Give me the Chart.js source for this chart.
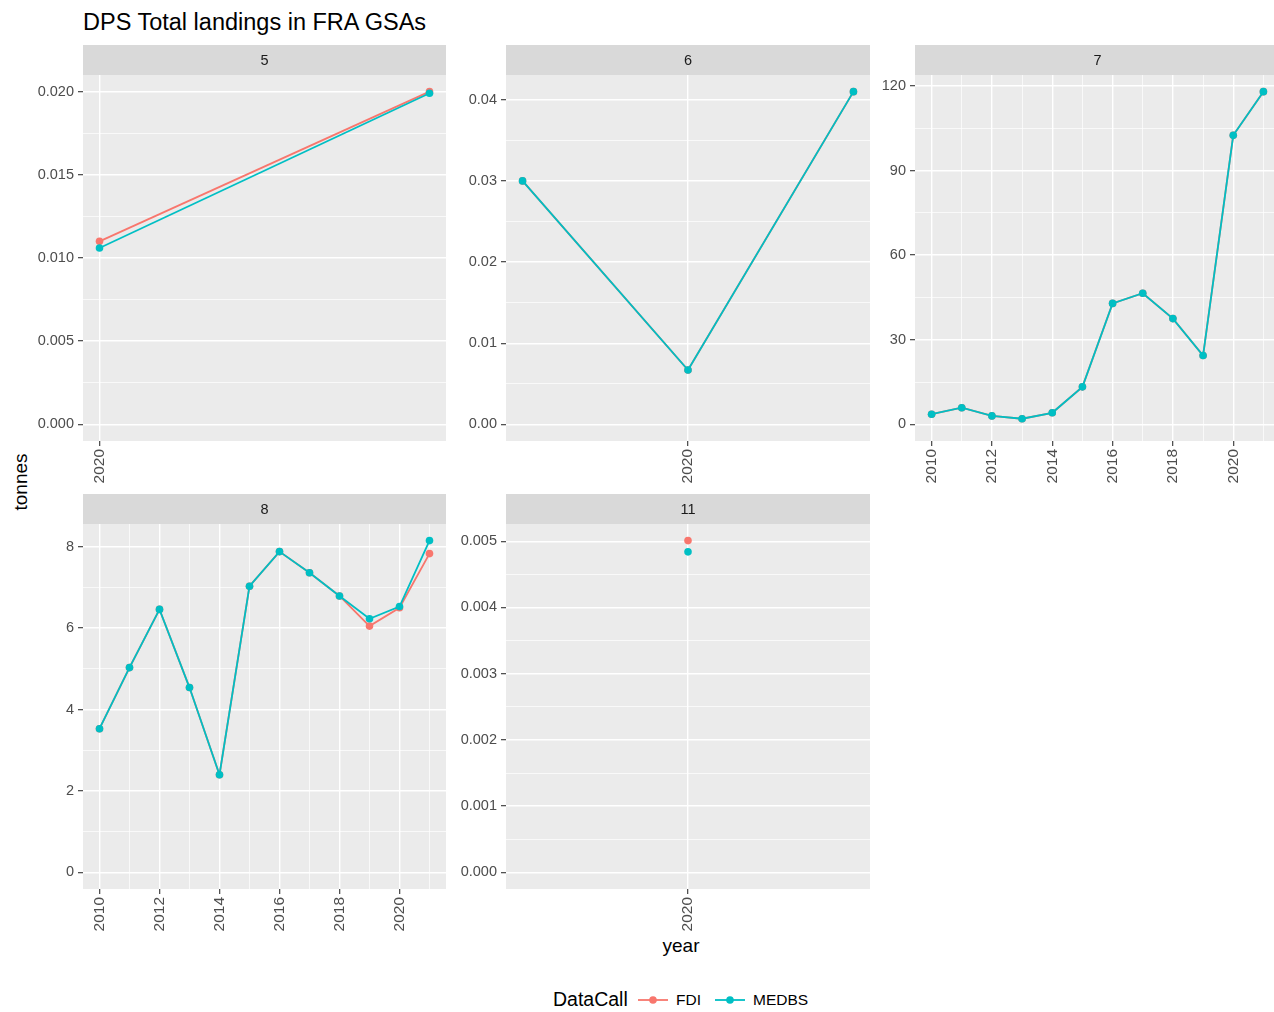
<!DOCTYPE html>
<html><head><meta charset="utf-8">
<script src="https://cdn.jsdelivr.net/npm/chart.js@4.4.0/dist/chart.umd.min.js"></script>
<style>
html,body{margin:0;padding:0;background:#fff;width:1274px;height:1012px;overflow:hidden;position:relative;font-family:"Liberation Sans",Arial,sans-serif;}
canvas{position:absolute;}
.t{position:absolute;white-space:nowrap;line-height:1;}
</style></head><body>
<div class="t" style="left:83px;top:11px;font-size:23.5px;color:#000">DPS Total landings in FRA GSAs</div>
<div class="t" style="left:20px;top:482px;font-size:19px;color:#000;transform:translate(-50%,-50%) rotate(-90deg);">tonnes</div>
<div class="t" style="left:681px;top:945px;font-size:19px;color:#000;transform:translate(-50%,-50%);">year</div>
<div class="t" style="left:553px;top:1000px;font-size:19.5px;color:#000;transform:translateY(-50%);">DataCall</div>
<svg style="position:absolute;left:638px;top:994px" width="30" height="12"><line x1="0" y1="6" x2="30" y2="6" stroke="#F8766D" stroke-width="1.8"/><circle cx="15" cy="6" r="3.8" fill="#F8766D"/></svg>
<div class="t" style="left:676px;top:1000px;font-size:15.5px;color:#000;transform:translateY(-50%);">FDI</div>
<svg style="position:absolute;left:715px;top:994px" width="30" height="12"><line x1="0" y1="6" x2="30" y2="6" stroke="#00BFC4" stroke-width="1.8"/><circle cx="15" cy="6" r="3.8" fill="#00BFC4"/></svg>
<div class="t" style="left:753px;top:1000px;font-size:15.5px;color:#000;transform:translateY(-50%);">MEDBS</div>

<canvas id="c5"></canvas><canvas id="c6"></canvas><canvas id="c7"></canvas><canvas id="c8"></canvas><canvas id="c11"></canvas>
<script>
// ---- data ----
const years5 = [2020, 2021];
const fdi5   = [0.0110, 0.0200];
const medbs5 = [0.0106, 0.0199];

const years6 = [2019, 2020, 2021];
const fdi6   = [0.0300, 0.0067, 0.0410];
const medbs6 = [0.0300, 0.0067, 0.0410];

const years7 = [2010, 2011, 2012, 2013, 2014, 2015, 2016, 2017, 2018, 2019, 2020, 2021];
const fdi7   = [3.6, 5.9, 3.0, 2.0, 4.1, 13.3, 42.9, 46.5, 37.5, 24.4, 102.5, 118.0];
const medbs7 = [3.6, 5.9, 3.0, 2.0, 4.1, 13.3, 42.9, 46.5, 37.5, 24.4, 102.5, 118.0];

const years8 = [2010, 2011, 2012, 2013, 2014, 2015, 2016, 2017, 2018, 2019, 2020, 2021];
const fdi8   = [3.53, 5.03, 6.46, 4.54, 2.40, 7.03, 7.88, 7.36, 6.79, 6.05, 6.50, 7.83];
const medbs8 = [3.53, 5.03, 6.46, 4.54, 2.40, 7.03, 7.88, 7.36, 6.79, 6.23, 6.53, 8.15];

const years11 = [2020];
const fdi11   = [0.00501];
const medbs11 = [0.00484];

// ---- tick labels ----
const xTicks5 = [2020];
const xTicks6 = [2020];
const xTicks7 = [2010, 2012, 2014, 2016, 2018, 2020];
const xTicks8 = [2010, 2012, 2014, 2016, 2018, 2020];
const xTicks11 = [2020];
const yTicks5 = ["0.000", "0.005", "0.010", "0.015", "0.020"];
const yTicks6 = ["0.00", "0.01", "0.02", "0.03", "0.04"];
const yTicks7 = ["0", "30", "60", "90", "120"];
const yTicks8 = ["0", "2", "4", "6", "8"];
const yTicks11 = ["0.000", "0.001", "0.002", "0.003", "0.004", "0.005"];

const FONT = '"Liberation Sans", Arial, sans-serif';
const YW = 70, XH = 50, TOPPAD = 34, RPAD = 6, BPAD = 5, STRIP = 30;

function withMinor(majors, lo, hi) {
  const out = majors.filter(v => v >= lo && v <= hi).map(v => ({value: v}));
  if (majors.length > 1) {
    const step = majors[1] - majors[0];
    const ext = [majors[0] - step, ...majors, majors[majors.length - 1] + step];
    for (let i = 0; i < ext.length - 1; i++) {
      const m = (ext[i] + ext[i + 1]) / 2;
      if (m >= lo && m <= hi) out.push({value: m, minor: true});
    }
  }
  out.sort((a, b) => a.value - b.value);
  return out;
}

const bgPlugin = {
  id: 'panelbg',
  beforeDraw(chart, args, opts) {
    const {ctx, chartArea: a} = chart;
    ctx.save();
    ctx.fillStyle = '#EBEBEB';
    ctx.fillRect(a.left, a.top, a.right - a.left, a.bottom - a.top);
    ctx.fillStyle = '#D9D9D9';
    ctx.fillRect(a.left, a.top - STRIP, a.right - a.left, STRIP);
    ctx.fillStyle = '#1A1A1A';
    ctx.font = '14.5px ' + FONT;
    ctx.textAlign = 'center';
    ctx.textBaseline = 'middle';
    ctx.fillText(opts.label, (a.left + a.right) / 2, a.top - STRIP / 2 + 1);
    ctx.restore();
  }
};

function gridOpts() {
  return {
    color: '#FFFFFF',
    lineWidth: c => (c.tick && c.tick.minor) ? 0.7 : 1.4,
    drawTicks: true,
    tickLength: 5,
    tickWidth: 1.1,
    tickColor: c => (c.tick && c.tick.minor) ? 'rgba(0,0,0,0)' : '#333333'
  };
}

function panel(id, box, label, years, fdi, medbs, xTicks, yTickLabels) {
  const cv = document.getElementById(id);
  const w = (box.R - box.L) + YW + RPAD;
  const h = (box.B - box.T) + TOPPAD + XH + BPAD;
  cv.width = w; cv.height = h;
  cv.style.left = (box.L - YW) + 'px';
  cv.style.top = (box.T - TOPPAD) + 'px';
  cv.style.width = w + 'px'; cv.style.height = h + 'px';

  const yVals = yTickLabels.map(Number);
  const yMax = Math.max(...fdi, ...medbs), yMin = 0;
  const yr = yMax - yMin;
  const ylo = yMin - 0.05 * yr, yhi = yMax + 0.05 * yr;
  const xa = Math.min(...years), xb = Math.max(...years);
  const xr = xb - xa;
  const xlo = xr === 0 ? xa - 0.55 : xa - 0.05 * xr;
  const xhi = xr === 0 ? xb + 0.55 : xb + 0.05 * xr;

  const mk = (arr) => years.map((y, i) => ({x: y, y: arr[i]}));
  new Chart(cv, {
    type: 'line',
    data: {
      datasets: [
        {label: 'FDI', data: mk(fdi), borderColor: '#F8766D', backgroundColor: '#F8766D',
         borderWidth: 1.8, pointRadius: 3.8, pointBorderWidth: 0, pointHoverRadius: 3.8, order: 2, tension: 0},
        {label: 'MEDBS', data: mk(medbs), borderColor: '#00BFC4', backgroundColor: '#00BFC4',
         borderWidth: 1.8, pointRadius: 3.8, pointBorderWidth: 0, pointHoverRadius: 3.8, order: 1, tension: 0}
      ]
    },
    options: {
      responsive: false,
      animation: false,
      devicePixelRatio: 1,
      layout: {padding: {left: 0, top: TOPPAD, right: RPAD, bottom: BPAD}},
      plugins: {legend: {display: false}, tooltip: {enabled: false}, panelbg: {label: label}},
      scales: {
        x: {
          type: 'linear', min: xlo, max: xhi, bounds: 'data',
          afterBuildTicks: s => { s.ticks = withMinor(xTicks, xlo, xhi); },
          afterFit: s => { s.height = XH; },
          ticks: {autoSkip: false, minRotation: 90, maxRotation: 90, padding: 3, color: '#4D4D4D',
                  font: {family: FONT, size: 15.5},
                  callback: (v, i, t) => (t[i] && t[i].minor) ? '' : String(v)},
          grid: gridOpts(),
          border: {display: false}
        },
        y: {
          type: 'linear', min: ylo, max: yhi, bounds: 'data',
          afterBuildTicks: s => { s.ticks = withMinor(yVals, ylo, yhi); },
          afterFit: s => { s.width = YW; },
          ticks: {autoSkip: false, padding: 4, color: '#4D4D4D', font: {family: FONT, size: 14.5},
                  callback: (v, i, t) => {
                    if (t[i] && t[i].minor) return '';
                    const k = yVals.findIndex(q => Math.abs(q - v) < 1e-12);
                    return k >= 0 ? yTickLabels[k] : '';
                  }},
          grid: gridOpts(),
          border: {display: false}
        }
      }
    },
    plugins: [bgPlugin]
  });
}

panel('c5',  {L: 83,  R: 446,  T: 75,  B: 441}, '5',  years5,  fdi5,  medbs5,  xTicks5,  yTicks5);
panel('c6',  {L: 506, R: 870,  T: 75,  B: 441}, '6',  years6,  fdi6,  medbs6,  xTicks6,  yTicks6);
panel('c7',  {L: 915, R: 1280, T: 75,  B: 441}, '7',  years7,  fdi7,  medbs7,  xTicks7,  yTicks7);
panel('c8',  {L: 83,  R: 446,  T: 524, B: 889}, '8',  years8,  fdi8,  medbs8,  xTicks8,  yTicks8);
panel('c11', {L: 506, R: 870,  T: 524, B: 889}, '11', years11, fdi11, medbs11, xTicks11, yTicks11);
</script>
</body></html>
